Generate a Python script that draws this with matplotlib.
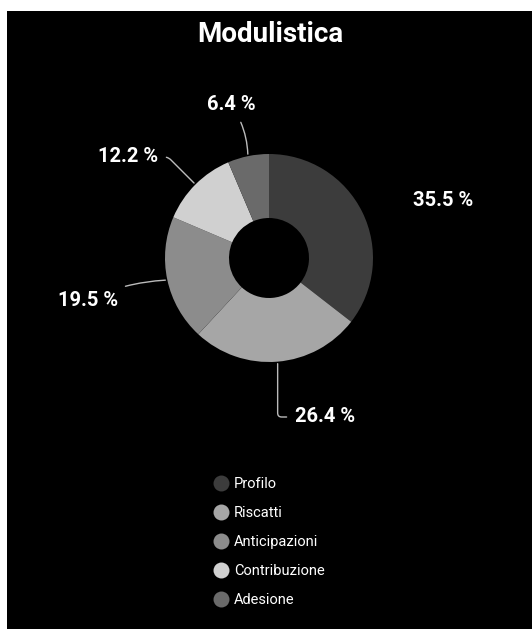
import numpy as np
import matplotlib
matplotlib.use("Agg")
import matplotlib.pyplot as plt
from matplotlib.lines import Line2D

plt.rcParams['font.family'] = ['Roboto', 'DejaVu Sans']
plt.rcParams['font.stretch'] = 'condensed'

# data
labels = ["Profilo", "Riscatti", "Anticipazioni", "Contribuzione", "Adesione"]
shares = [35.5, 26.4, 19.5, 12.2, 6.4]
colors = ["#3c3c3c", "#a6a6a6", "#8c8c8c", "#d0d0d0", "#6a6a6a"]
title = "Modulistica"

# layout in pixels (y measured from top of the image)
W, H = 532, 629
cx, cy, r_out, r_in = 269, 258, 104, 40
label_pos = [(443, 200), (325, 417), (88, 300), (128, 157), (231, 105)]
leader = [False, True, True, True, True]
conn = ["arc3,rad=0", "angle,angleA=0,angleB=90,rad=4", "arc3,rad=-0.1",
        "angle,angleA=0,angleB=135,rad=4", "arc3,rad=-0.15"]

fig = plt.figure(figsize=(W / 100, H / 100), dpi=100, facecolor="white")
ax = fig.add_axes([7 / W, 0, (W - 7) / W, (H - 11) / H])
ax.set_facecolor("black")

wedges, _ = ax.pie(shares, colors=colors, startangle=90, counterclock=False,
                   center=(cx, H - cy), radius=r_out,
                   wedgeprops=dict(width=r_out - r_in, linewidth=0))
ax.set_xlim(7, W)
ax.set_ylim(0, H - 11)
ax.set_aspect("equal")
ax.set_frame_on(True)
for s in ax.spines.values():
    s.set_visible(False)
ax.set_xticks([])
ax.set_yticks([])

# percentage labels with leader lines
for w, val, (lx, ly), has_line, cs in zip(wedges, shares, label_pos, leader, conn):
    ang = np.deg2rad((w.theta1 + w.theta2) / 2)
    ax_x = cx + (r_out + 2) * np.cos(ang)
    ax_y = (H - cy) + (r_out + 2) * np.sin(ang)
    txt = f"{val:.1f} %"
    if has_line:
        ax.annotate(txt, xy=(ax_x, ax_y), xytext=(lx, H - ly),
                    ha="center", va="center", color="white", fontsize=14.5,
                    fontweight="bold",
                    arrowprops=dict(arrowstyle="-", color="#bbbbbb", lw=1,
                                    shrinkA=4, shrinkB=0, connectionstyle=cs))
    else:
        ax.text(lx, H - ly, txt, ha="center", va="center", color="white",
                fontsize=14.5, fontweight="bold")

ax.text(270, H - 34, title, ha="center", va="center", color="white",
        fontsize=20, fontweight="bold")

handles = [Line2D([], [], marker="o", linestyle="none", markersize=11.5,
                  markerfacecolor=c, markeredgewidth=0) for c in colors]
ax.legend(handles, labels, loc="upper left",
          bbox_to_anchor=(213 / W, (H - 477) / H), bbox_transform=fig.transFigure,
          frameon=False, labelcolor="white", fontsize=10.5, handlelength=1.1,
          handletextpad=0.35, labelspacing=1.03, borderpad=0, borderaxespad=0)

fig.savefig("out.png", dpi=100, facecolor="white")
